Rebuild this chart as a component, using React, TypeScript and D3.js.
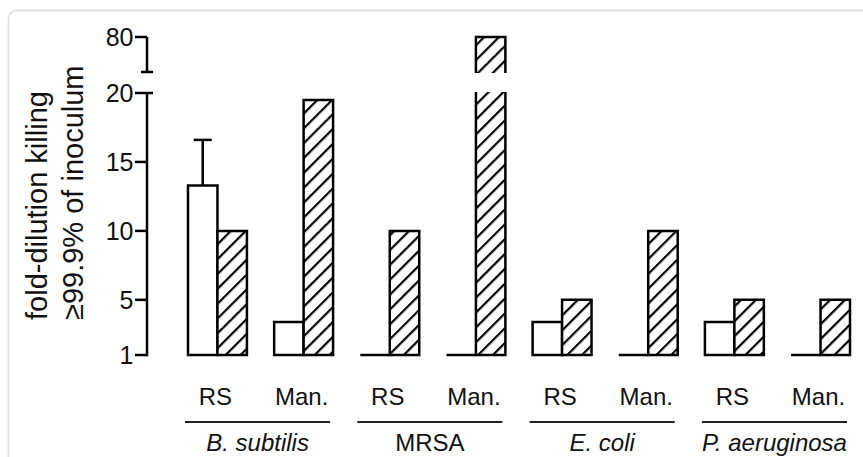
import { useEffect, useRef } from "react";
import * as d3 from "d3";

const organisms = ["B. subtilis", "MRSA", "E. coli", "P. aeruginosa"];
const organismItalic = [true, false, true, true];
const methods = ["RS", "Man."];

// one entry per organism x method, in order
const openValues = [13.3, 3.4, 1, 1, 3.4, 1, 3.4, 1];
const hatchedValues = [10, 19.5, 10, 80, 5, 10, 5, 5];
const openErrorTop = [16.6, null, null, null, null, null, null, null];

const lowerTicks = [1, 5, 10, 15, 20];
const upperTicks = [80];
const breakLow = 70; // value where the upper axis segment starts
const breakHigh = 20; // top of the lower axis segment

const FONT = "'Liberation Sans', Arial, Helvetica, sans-serif";

export default function App() {
  const svgRef = useRef<SVGSVGElement | null>(null);

  useEffect(() => {
    const svg = d3.select(svgRef.current);
    svg.selectAll("*").remove();

    const width = 863;
    const height = 457;
    const axisX = 147;
    const baseY = 355;

    // light rounded frame
    svg.append("rect")
      .attr("x", 8.5)
      .attr("y", 10.5)
      .attr("width", width + 20)
      .attr("height", height + 20)
      .attr("rx", 8)
      .attr("fill", "#fff")
      .attr("stroke", "#e3e3e3")
      .attr("stroke-width", 2);

    const defs = svg.append("defs");
    const pat = defs.append("pattern")
      .attr("id", "hatch")
      .attr("patternUnits", "userSpaceOnUse")
      .attr("width", 10.5)
      .attr("height", 10.5)
      .attr("patternTransform", "rotate(45)");
    pat.append("rect").attr("width", 10.5).attr("height", 10.5).attr("fill", "#fff");
    pat.append("line")
      .attr("x1", 0).attr("y1", 0).attr("x2", 0).attr("y2", 10.5)
      .attr("stroke", "#000")
      .attr("stroke-width", 4.4);

    const yLow = d3.scaleLinear().domain([1, breakHigh]).range([baseY, 93]);
    const yUp = d3.scaleLinear().domain([breakLow, 80]).range([72, 37]);

    const keys = organisms.flatMap((o) => methods.map((m) => `${o}|${m}`));
    const x = d3.scaleBand<string>()
      .domain(keys)
      .range([188, 850])
      .paddingInner(0.316)
      .paddingOuter(0);
    const bw = x.bandwidth() / 2;

    // y axis
    const ax = svg.append("g")
      .attr("stroke", "#000")
      .attr("stroke-width", 2.5)
      .attr("fill", "none");
    ax.append("line")
      .attr("x1", axisX).attr("x2", axisX)
      .attr("y1", yLow(1) + 1.25).attr("y2", yLow(breakHigh));
    ax.append("line")
      .attr("x1", axisX).attr("x2", axisX)
      .attr("y1", yUp(breakLow)).attr("y2", yUp(80));
    // caps at the axis break
    ax.append("line")
      .attr("x1", axisX - 6).attr("x2", axisX + 6)
      .attr("y1", yUp(breakLow)).attr("y2", yUp(breakLow));
    ax.append("line")
      .attr("x1", axisX).attr("x2", axisX + 6)
      .attr("y1", yLow(breakHigh)).attr("y2", yLow(breakHigh));
    const tickData = [
      ...lowerTicks.map((t) => ({ t, y: yLow(t) })),
      ...upperTicks.map((t) => ({ t, y: yUp(t) })),
    ];
    ax.selectAll(".tick")
      .data(tickData)
      .join("line")
      .attr("x1", axisX - 12)
      .attr("x2", axisX)
      .attr("y1", (d) => d.y)
      .attr("y2", (d) => d.y);
    svg.selectAll(".tick-label")
      .data(tickData)
      .join("text")
      .attr("x", 133.5)
      .attr("y", (d) => d.y)
      .attr("dy", "0.36em")
      .attr("text-anchor", "end")
      .style("font-family", FONT)
      .style("font-size", "25px")
      .style("fill", "#111")
      .text((d) => d.t);

    // y title
    const titleLines = ["fold-dilution killing", "\u226599.9% of inoculum"];
    svg.selectAll(".ytitle")
      .data(titleLines)
      .join("text")
      .attr("transform", (_, i) => `translate(${47 + i * 36},320) rotate(-90)`)
      .attr("text-anchor", "start")
      .style("font-family", FONT)
      .style("font-size", "29px")
      .style("fill", "#111")
      .text((d) => d);

    const g = svg.append("g");
    const barPath = (x0: number, w: number, y0: number, y1: number) =>
      `M${x0},${y0}V${y1}H${x0 + w}V${y0}Z`;

    // open bars
    g.selectAll(".open")
      .data(keys)
      .join("path")
      .attr("d", (k, i) => barPath(x(k)!, bw, baseY, yLow(openValues[i])))
      .attr("fill", "#fff")
      .attr("stroke", "#000")
      .attr("stroke-width", 2.5)
      .attr("stroke-linejoin", "miter");

    // hatched bars
    keys.forEach((k, i) => {
      const v = hatchedValues[i];
      const x0 = x(k)! + bw;
      if (v <= breakHigh) {
        g.append("path")
          .attr("d", barPath(x0, bw, baseY, yLow(v)))
          .attr("fill", "url(#hatch)")
          .attr("stroke", "#000")
          .attr("stroke-width", 2.5);
      } else {
        const yTopLow = yLow(breakHigh) - 1;
        g.append("rect")
          .attr("x", x0).attr("width", bw)
          .attr("y", yTopLow).attr("height", baseY - yTopLow)
          .attr("fill", "url(#hatch)");
        g.append("path")
          .attr("d", `M${x0},${yTopLow}V${baseY}H${x0 + bw}V${yTopLow}`)
          .attr("fill", "none")
          .attr("stroke", "#000")
          .attr("stroke-width", 2.5);
        const yb = yUp(breakLow) + 1;
        const yt = yUp(v);
        g.append("rect")
          .attr("x", x0).attr("width", bw)
          .attr("y", yt).attr("height", yb - yt)
          .attr("fill", "url(#hatch)");
        g.append("path")
          .attr("d", `M${x0},${yb}V${yt}H${x0 + bw}V${yb}`)
          .attr("fill", "none")
          .attr("stroke", "#000")
          .attr("stroke-width", 2.5);
      }
    });

    // error bars
    keys.forEach((k, i) => {
      const e = openErrorTop[i];
      if (e == null) return;
      const cx = x(k)! + bw / 2;
      g.append("line")
        .attr("x1", cx).attr("x2", cx)
        .attr("y1", yLow(openValues[i])).attr("y2", yLow(e))
        .attr("stroke", "#000").attr("stroke-width", 2.5);
      g.append("line")
        .attr("x1", cx - 9).attr("x2", cx + 9)
        .attr("y1", yLow(e)).attr("y2", yLow(e))
        .attr("stroke", "#000").attr("stroke-width", 2.5);
    });

    // method labels
    svg.selectAll(".method")
      .data(keys)
      .join("text")
      .attr("x", (k) => x(k)! + x.bandwidth() / 2 - 2)
      .attr("y", 405)
      .attr("text-anchor", "middle")
      .style("font-family", FONT)
      .style("font-size", "24px")
      .style("fill", "#111")
      .text((k) => k.split("|")[1]);

    // organism lines and labels
    organisms.forEach((o, i) => {
      const xs = x(`${o}|${methods[0]}`)! - 3;
      const xe = x(`${o}|${methods[1]}`)! + x.bandwidth() - 3;
      svg.append("line")
        .attr("x1", xs).attr("x2", xe)
        .attr("y1", 422).attr("y2", 422)
        .attr("stroke", "#222")
        .attr("stroke-width", 2);
      svg.append("text")
        .attr("x", (xs + xe) / 2)
        .attr("y", 451)
        .attr("text-anchor", "middle")
        .style("font-family", FONT)
        .style("font-size", "24px")
        .style("font-style", organismItalic[i] ? "italic" : "normal")
        .style("fill", "#111")
        .text(o);
    });
  }, []);

  return (
    <svg
      ref={svgRef}
      width={863}
      height={457}
      style={{ position: "absolute", left: 0, top: 0, background: "#fff" }}
    />
  );
}
